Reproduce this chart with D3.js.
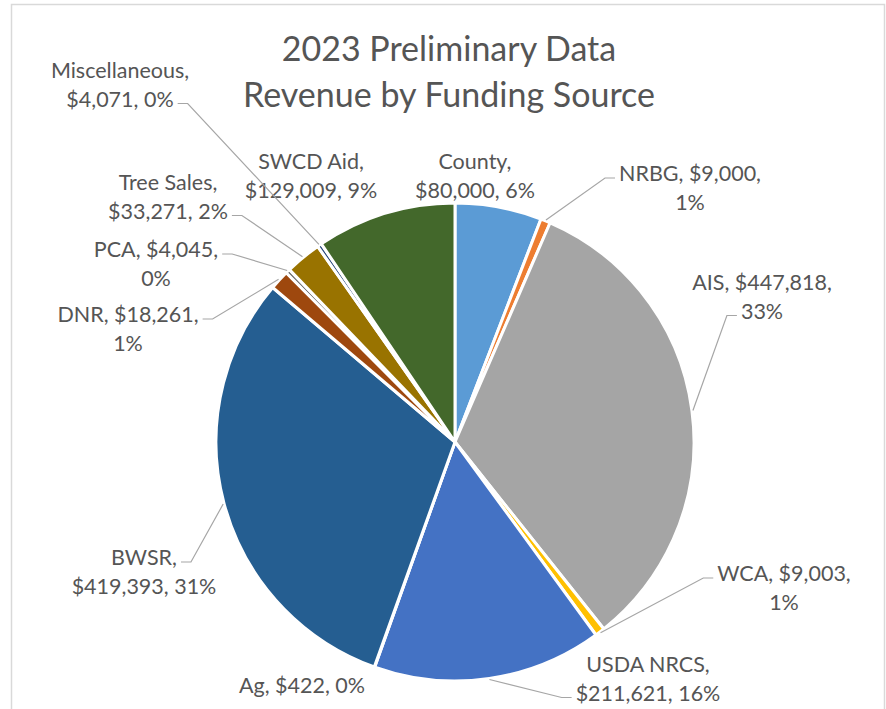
<!DOCTYPE html>
<html>
<head>
<meta charset="utf-8">
<script src="https://cdn.jsdelivr.net/npm/d3@7"></script>
<style>
  html, body { margin: 0; padding: 0; background: #fff; }
  svg { display: block; }
</style>
</head>
<body>
<div id="chart"></div>
<script>
// data
const categories = ["County", "NRBG", "AIS", "WCA", "USDA NRCS", "Ag", "BWSR", "DNR", "PCA", "Tree Sales", "Miscellaneous", "SWCD Aid"];
const values = [80000, 9000, 447818, 9003, 211621, 422, 419393, 18261, 4045, 33271, 4071, 129009];
// percentages as printed on the chart
const percents = [6, 1, 33, 1, 16, 0, 31, 1, 0, 2, 0, 9];
const colors = ["#5b9bd5", "#ed7d31", "#a5a5a5", "#ffc000", "#4472c4", "#70ad47", "#255e91", "#9e480e", "#636363", "#997300", "#264478", "#43682b"];
const titleLines = ["2023 Preliminary Data", "Revenue by Funding Source"];

// label layout: center x / first baseline y, wrap (0 one line, 1 after name, 2 after value), leader line index (-1 none)
const labelLayout = [
  { x: 475, y: 169, wrap: 1, leader: -1 },
  { x: 690, y: 181, wrap: 2, leader: 0 },
  { x: 762, y: 290, wrap: 2, leader: 1 },
  { x: 784, y: 581, wrap: 2, leader: 0 },
  { x: 648, y: 672, wrap: 1, leader: 1 },
  { x: 302, y: 693, wrap: 0, leader: -1 },
  { x: 144, y: 565, wrap: 1, leader: 0 },
  { x: 128, y: 322, wrap: 2, leader: 0 },
  { x: 156, y: 257, wrap: 2, leader: 0 },
  { x: 168, y: 190, wrap: 1, leader: 1 },
  { x: 120, y: 78, wrap: 1, leader: 1 },
  { x: 311, y: 169, wrap: 1, leader: -1 }
];

const width = 886, height = 709;
const cx = 455, cy = 442, radius = 239;
const textColor = "#555555";
const font = "Lato, 'Open Sans', sans-serif";
const lineH = 28.5;

const svg = d3.select("#chart").append("svg")
  .attr("width", width)
  .attr("height", height)
  .attr("font-family", font);

// chart frame
svg.append("rect")
  .attr("x", 11.5).attr("y", 4.5)
  .attr("width", 873).attr("height", 740)
  .attr("fill", "#fff")
  .attr("stroke", "#d9d9d9")
  .attr("stroke-width", 1.5);

// title
svg.append("g")
  .selectAll("text")
  .data(titleLines)
  .join("text")
  .attr("x", 449)
  .attr("y", (d, i) => 61 + i * 46)
  .attr("text-anchor", "middle")
  .attr("font-size", 34)
  .attr("fill", textColor)
  .text(d => d);

const pie = d3.pie().sort(null).value(d => d);
const arcs = pie(values);
const arc = d3.arc().innerRadius(0).outerRadius(radius);

const g = svg.append("g").attr("transform", `translate(${cx},${cy})`);

g.selectAll("path")
  .data(arcs)
  .join("path")
  .attr("d", arc)
  .attr("fill", (d, i) => colors[i])
  .attr("stroke", "#fff")
  .attr("stroke-width", 3)
  .attr("stroke-linejoin", "round");

const money = d3.format("$,");
function labelLines(i) {
  const name = categories[i] + ",";
  const val = money(values[i]) + ",";
  const pct = percents[i] + "%";
  const w = labelLayout[i].wrap;
  if (w === 0) return [name + " " + val + " " + pct];
  if (w === 1) return [name, val + " " + pct];
  return [name + " " + val, pct];
}

const labels = svg.append("g")
  .attr("font-size", 21.5)
  .attr("fill", textColor);

const leaders = svg.append("g")
  .attr("fill", "none")
  .attr("stroke", "#a6a6a6")
  .attr("stroke-width", 1.2);

arcs.forEach((a, i) => {
  const L = labelLayout[i];
  const lines = labelLines(i);
  const texts = labels.append("g")
    .selectAll("text")
    .data(lines)
    .join("text")
    .attr("x", L.x)
    .attr("y", (d, j) => L.y + j * lineH)
    .attr("text-anchor", "middle")
    .text(d => d);

  if (L.leader < 0) return;
  const node = texts.nodes()[L.leader];
  const bb = node.getBBox();
  const mid = (a.startAngle + a.endAngle) / 2;
  const px = cx + Math.sin(mid) * (radius + 1);
  const py = cy - Math.cos(mid) * (radius + 1);
  const ly = L.y + L.leader * lineH - 3;
  const leftSide = L.x < cx;
  const x0 = leftSide ? bb.x + bb.width + 4 : bb.x - 4;
  const x1 = leftSide ? x0 + 10 : x0 - 10;
  leaders.append("path")
    .attr("d", d3.line()([[x0, ly], [x1, ly], [px, py]]));
});
</script>
</body>
</html>
